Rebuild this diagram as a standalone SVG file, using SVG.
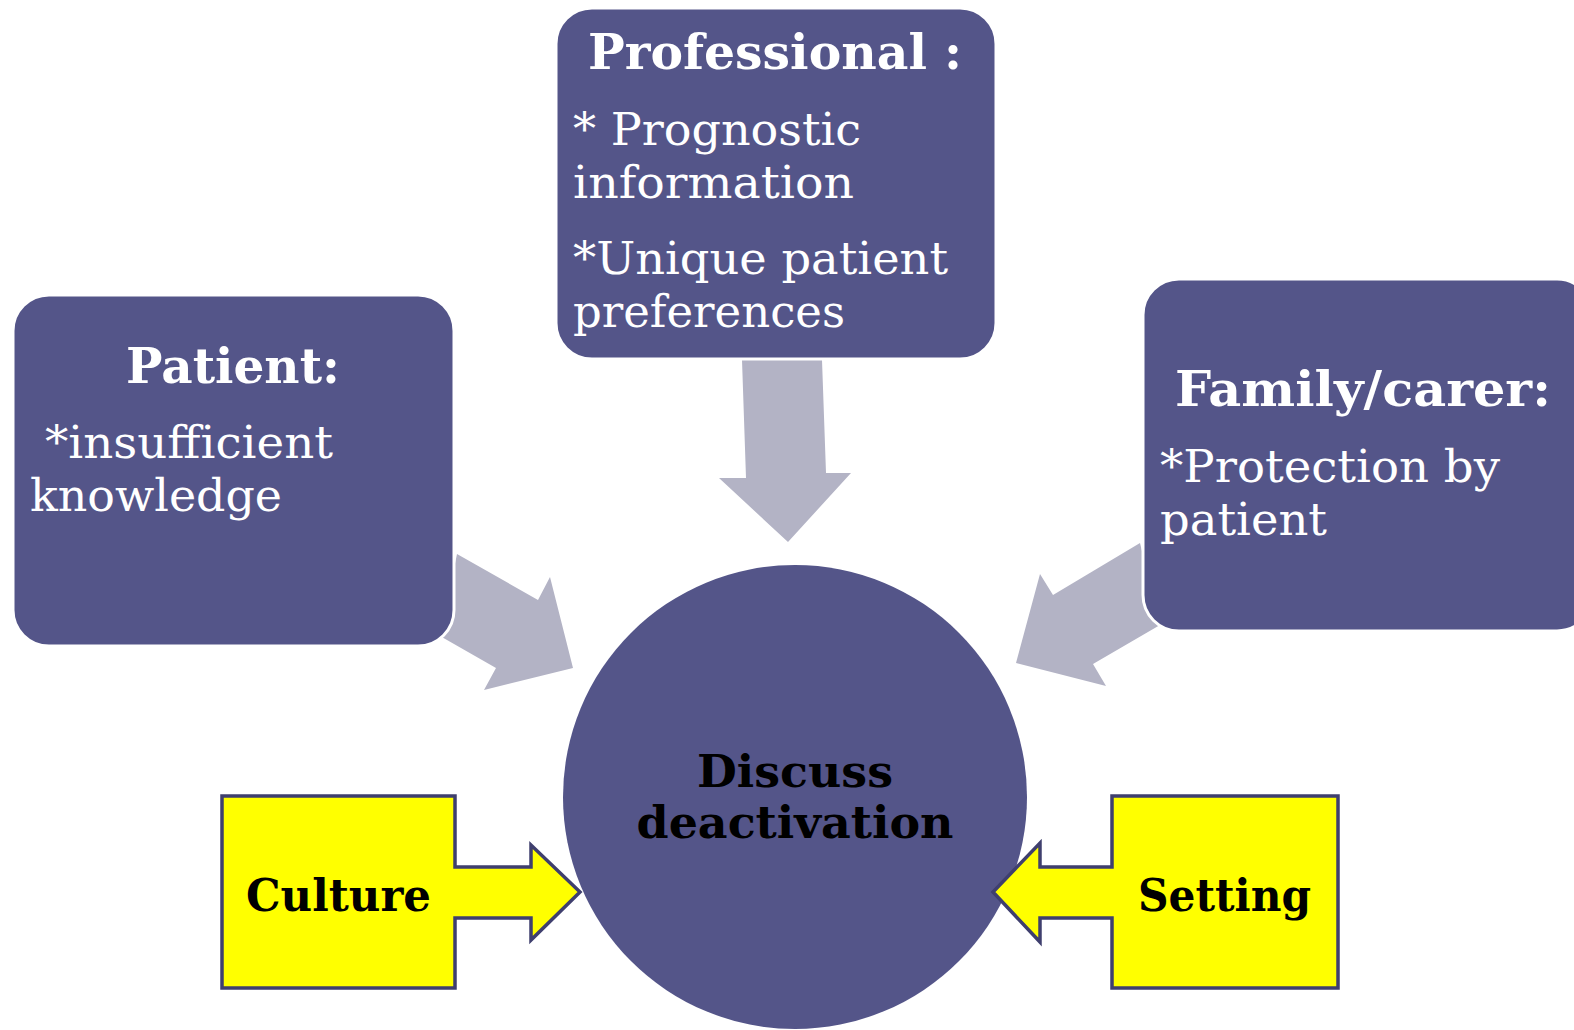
<svg xmlns="http://www.w3.org/2000/svg" width="1574" height="1030" viewBox="0 0 1574 1030">
<style>
.box{fill:#545589;stroke:#ffffff;stroke-width:3}
.gray{fill:#b3b3c5}
.yel{fill:#ffff00;stroke:#3f3f6e;stroke-width:3.5;stroke-linejoin:miter}
.t{font-family:"DejaVu Serif","Liberation Serif",serif;fill:#ffffff}
.h{font-weight:bold;font-size:49px}
.b{font-size:44px}
.k{font-family:"DejaVu Serif","Liberation Serif",serif;font-weight:bold;fill:#000000;font-size:45px}
</style>
<rect width="1574" height="1030" fill="#ffffff"/>
<g id="connectors">
<polygon class="gray" points="742,360 822,360 826,473 851,473 788,542 719,478 746,478"/>
<polygon class="gray" points="457,554 538,600 550,577 573,668 484,690 496,668 440,636"/>
<polygon class="gray" points="1140,543 1053,595 1040,574 1016,663 1106,686 1093,664 1160,625"/>
</g>
<g id="professional">
<rect class="box" x="556" y="8" width="440" height="351" rx="36"/>
<text class="t h" x="775" y="69" text-anchor="middle" textLength="374" lengthAdjust="spacingAndGlyphs">Professional :</text>
<text class="t b" x="573" y="145" textLength="288" lengthAdjust="spacingAndGlyphs">* Prognostic</text>
<text class="t b" x="573" y="198" textLength="281" lengthAdjust="spacingAndGlyphs">information</text>
<text class="t b" x="573" y="274" textLength="375" lengthAdjust="spacingAndGlyphs">*Unique patient</text>
<text class="t b" x="573" y="327" textLength="272" lengthAdjust="spacingAndGlyphs">preferences</text>
</g>
<g id="patient">
<rect class="box" x="13" y="295" width="441" height="351" rx="36"/>
<text class="t h" x="233" y="383" text-anchor="middle" textLength="214" lengthAdjust="spacingAndGlyphs">Patient:</text>
<text class="t b" x="45" y="458" textLength="288" lengthAdjust="spacingAndGlyphs">*insufficient</text>
<text class="t b" x="30" y="511" textLength="252" lengthAdjust="spacingAndGlyphs">knowledge</text>
</g>
<g id="family">
<rect class="box" x="1143" y="279" width="450" height="352" rx="36"/>
<text class="t h" x="1175" y="406" textLength="376" lengthAdjust="spacingAndGlyphs">Family/carer:</text>
<text class="t b" x="1160" y="482" textLength="340" lengthAdjust="spacingAndGlyphs">*Protection by</text>
<text class="t b" x="1160" y="535" textLength="167" lengthAdjust="spacingAndGlyphs">patient</text>
</g>
<g id="discuss">
<circle cx="795" cy="797" r="232" fill="#545589"/>
<text class="k" x="795" y="787" text-anchor="middle" textLength="196" lengthAdjust="spacingAndGlyphs">Discuss</text>
<text class="k" x="795" y="838" text-anchor="middle" textLength="317" lengthAdjust="spacingAndGlyphs">deactivation</text>
</g>
<g id="culture">
<polygon class="yel" points="222,796 455,796 455,867 531,867 531,845 580,892 531,940 531,918 455,918 455,988 222,988"/>
<text class="k" x="246" y="911" textLength="185" lengthAdjust="spacingAndGlyphs">Culture</text>
</g>
<g id="setting">
<polygon class="yel" points="1338,796 1112,796 1112,867 1040,867 1040,843 993,892 1040,942 1040,918 1112,918 1112,988 1338,988"/>
<text class="k" x="1138" y="911" textLength="173" lengthAdjust="spacingAndGlyphs">Setting</text>
</g>
</svg>
